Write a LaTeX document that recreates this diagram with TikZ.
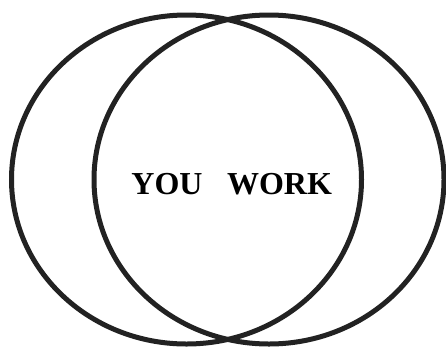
\documentclass[tikz,border=0pt]{standalone}
\usepackage{fontspec}
\setmainfont{Liberation Serif}
\usepackage{tikz}
\usepackage{xcolor}
\usetikzlibrary{shapes.geometric}
\definecolor{Ink}{HTML}{222222}
\tikzset{
  ring/.style={
    ellipse,draw=Ink,line width=5pt,inner sep=0pt,
    minimum width=350pt,minimum height=329pt
  },
  word/.style={
    anchor=base,inner sep=0pt,text=black,
    font=\fontsize{32}{38}\selectfont\bfseries
  }
}
\begin{document}
\begin{tikzpicture}[x=1pt,y=-1pt]
      \useasboundingbox (0,0) rectangle (446,349);
      \node[ring] (you) at (186.5,179.5) {};
      \node[ring] (work) at (269,179.5) {};

      \node[word] (youtext) at (167,194) {YOU};
      \node[word] (worktext) at (279.5,194) {WORK};
    \end{tikzpicture}
\end{document}
